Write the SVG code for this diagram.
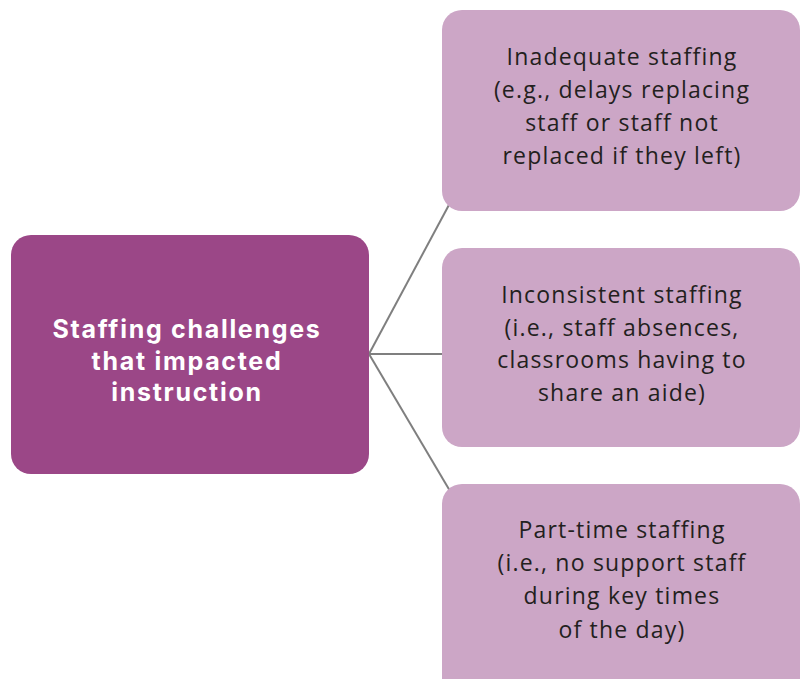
<svg xmlns="http://www.w3.org/2000/svg" width="801" height="679" viewBox="0 0 801 679">
<style>
.main{fill:#9b4787}
.sub{fill:#cca6c6}
.mt{font-family:Inter,"Liberation Sans",sans-serif;font-weight:bold;font-size:25px;letter-spacing:1.7px;fill:#ffffff;text-anchor:middle}
.st{font-family:"Open Sans","Liberation Sans",sans-serif;font-size:23px;letter-spacing:1.2px;fill:#231f20;text-anchor:middle}
.con{stroke:#7f7f7f;stroke-width:2;fill:none}
</style>
<rect width="801" height="679" fill="#ffffff"/>
<g id="connectors">
<line class="con" x1="369" y1="354" x2="450" y2="203"/>
<line class="con" x1="369" y1="354" x2="442" y2="354"/>
<line class="con" x1="369" y1="354" x2="450" y2="491"/>
</g>
<g id="main">
<rect class="main" x="11" y="235" width="358" height="239" rx="20"/>
<text class="mt" x="187" y="338">Staffing challenges</text>
<text class="mt" x="187" y="370">that impacted</text>
<text class="mt" x="187" y="401">instruction</text>
</g>
<g id="inadequate">
<rect class="sub" x="442" y="10" width="358" height="201" rx="20"/>
<text class="st" x="622" y="65">Inadequate staffing</text>
<text class="st" x="622" y="98">(e.g., delays replacing</text>
<text class="st" x="622" y="131">staff or staff not</text>
<text class="st" x="622" y="164">replaced if they left)</text>
</g>
<g id="inconsistent">
<rect class="sub" x="442" y="248" width="358" height="199" rx="20"/>
<text class="st" x="622" y="303">Inconsistent staffing</text>
<text class="st" x="622" y="336">(i.e., staff absences,</text>
<text class="st" x="622" y="368">classrooms having to</text>
<text class="st" x="622" y="401">share an aide)</text>
</g>
<g id="parttime">
<rect class="sub" x="442" y="484" width="358" height="220" rx="20"/>
<text class="st" x="622" y="538">Part-time staffing</text>
<text class="st" x="622" y="571">(i.e., no support staff</text>
<text class="st" x="622" y="604">during key times</text>
<text class="st" x="622" y="638">of the day)</text>
</g>
</svg>
